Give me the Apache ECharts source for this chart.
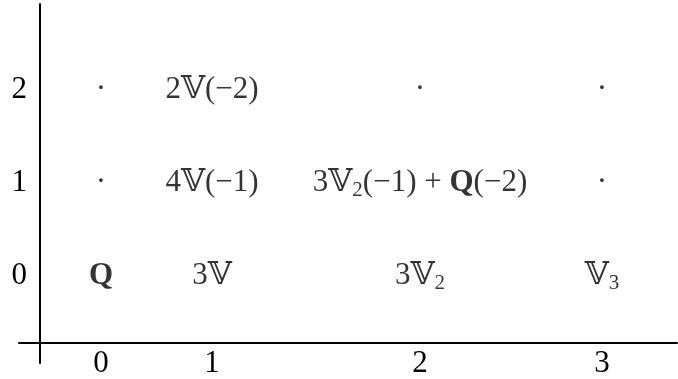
<!DOCTYPE html>
<html>
<head>
<meta charset="utf-8">
<script src="https://cdn.jsdelivr.net/npm/echarts@6/dist/echarts.min.js"></script>
<style>html,body{margin:0;padding:0;background:#fff}#c{width:678px;height:379px}</style>
</head>
<body>
<div id="c"></div>
<script>
// Tick labels
const colTicks = ['0', '1', '2', '3'];
const rowTicks = ['0', '1', '2'];
// Cell contents by row (q = 0, 1, 2), columns p = 0..3
const row0 = ['{b|Q}', '3𝕍', '3𝕍{s|2}', '𝕍{s|3}'];
const row1 = ['·', '4𝕍(−1)', '3𝕍{s|2}(−1) + {b|Q}(−2)', '·'];
const row2 = ['·', '2𝕍(−2)', '·', '·'];

// Layout: column centres (array columns have unequal widths)
const colCenters = [101, 212, 420, 602];

const FONT = '"Liberation Serif", "DejaVu Serif", serif';
const FS = 31;
const rows = [row0, row1, row2];
const cellData = [];
rows.forEach((row, q) => {
  row.forEach((txt, p) => {
    cellData.push({ value: [colCenters[p], q], text: txt });
  });
});

const chart = echarts.init(document.getElementById('c'));
chart.setOption({
  animation: false,
  grid: { left: 19, right: 1, top: 4, bottom: 12 },
  xAxis: {
    type: 'value', min: 19, max: 677,
    offset: -20,
    splitLine: { show: false },
    axisLine: { show: true, onZero: false, lineStyle: { color: '#000', width: 2 } },
    axisTick: { show: false },
    axisLabel: {
      customValues: colCenters,
      formatter: v => colTicks[colCenters.indexOf(v)],
      color: '#000', fontFamily: FONT, fontSize: FS, margin: 5
    }
  },
  yAxis: {
    type: 'value', min: -0.936, max: 2.926,
    offset: -21,
    splitLine: { show: false },
    axisLine: { show: true, onZero: false, lineStyle: { color: '#000', width: 2 } },
    axisTick: { show: false },
    axisLabel: {
      customValues: [0, 1, 2],
      formatter: v => rowTicks[v],
      color: '#000', fontFamily: FONT, fontSize: FS, margin: 13
    }
  },
  series: [{
    type: 'scatter',
    symbolSize: 0,
    data: cellData,
    label: {
      show: true, position: 'inside',
      formatter: p => p.data.text,
      color: '#000', fontFamily: FONT, fontSize: FS, lineHeight: 36,
      rich: {
        b: { fontWeight: 'bold', fontFamily: FONT, fontSize: FS, color: '#000', lineHeight: 36 },
        s: { fontFamily: FONT, fontSize: 21, lineHeight: 21, verticalAlign: 'bottom', color: '#000' }
      }
    }
  }]
});
</script>
</body>
</html>
